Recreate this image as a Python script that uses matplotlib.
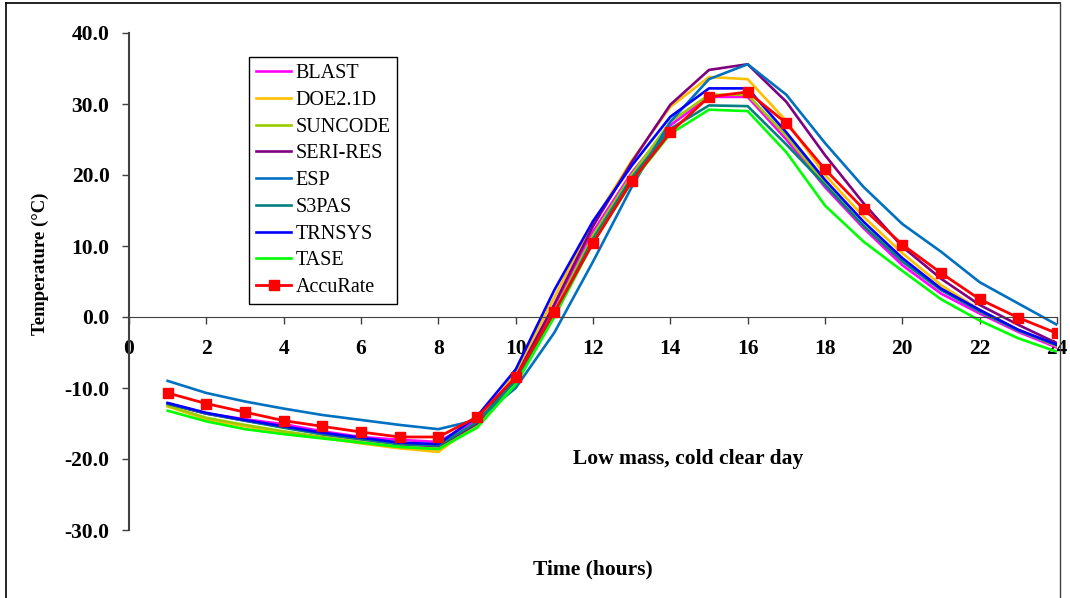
import numpy as np
import matplotlib
matplotlib.use("Agg")
import matplotlib.pyplot as plt
from matplotlib.lines import Line2D

plt.rcParams.update(
    {
        "font.family": "Liberation Serif",
        "font.size": 13,
    }
)

# hours of the day
hours = list(range(1, 25))

# simulated temperatures (degC)
blast = [-12.2, -13.6, -14.4, -15.1, -16.1, -16.9, -17.3, -17.6, -14.5, -8.3, 1.5, 12.0,
         20.3, 27.0, 31.0, 31.0, 25.0, 18.3, 12.5, 7.3, 3.3, 0.5, -2.1, -4.3]
doe21d = [-12.6, -14.4, -15.4, -16.3, -17.0, -17.8, -18.5, -19.0, -15.0, -7.9, 2.8, 13.3,
          22.0, 29.6, 33.8, 33.5, 27.6, 20.0, 14.1, 9.0, 4.5, 1.0, -1.8, -4.1]
suncode = [-12.5, -14.2, -15.2, -16.1, -16.9, -17.6, -18.3, -18.6, -15.2, -8.8, 0.8, 11.5,
           20.0, 27.5, 31.3, 31.3, 25.5, 18.8, 12.8, 8.0, 4.0, 0.8, -1.9, -4.0]
seri_res = [-12.2, -13.6, -14.6, -15.5, -16.5, -17.2, -17.9, -18.2, -15.0, -8.5, 1.8, 12.8,
            21.8, 29.9, 34.8, 35.6, 30.3, 22.8, 16.0, 9.9, 5.4, 1.7, -1.1, -3.7]
esp = [-9.0, -10.7, -11.9, -12.9, -13.8, -14.5, -15.2, -15.8, -14.5, -10.0, -2.2, 7.8,
       18.3, 27.5, 33.5, 35.6, 31.3, 24.5, 18.3, 13.1, 9.2, 4.9, 1.9, -1.1]
s3pas = [-12.2, -13.6, -14.6, -15.6, -16.5, -17.2, -17.9, -18.1, -14.8, -9.0, 0.3, 11.0,
         19.6, 26.5, 29.8, 29.7, 24.3, 18.6, 12.8, 7.8, 3.8, 0.8, -1.9, -4.0]
trnsys = [-12.1, -13.5, -14.5, -15.4, -16.3, -17.0, -17.7, -17.9, -14.0, -7.4, 3.8, 13.5,
          21.3, 28.2, 32.2, 32.2, 26.0, 19.3, 13.4, 8.3, 4.0, 1.0, -1.8, -3.9]
tase = [-13.2, -14.7, -15.8, -16.5, -17.1, -17.7, -18.3, -18.6, -15.6, -9.5, 0.0, 10.5,
        19.0, 25.8, 29.2, 29.0, 23.2, 15.7, 10.6, 6.5, 2.5, -0.5, -3.0, -4.9]
accurate = [-10.7, -12.2, -13.4, -14.6, -15.4, -16.2, -16.9, -16.9, -14.1, -8.5, 0.7, 10.4,
            19.1, 26.0, 31.0, 31.7, 27.3, 20.8, 15.2, 10.2, 6.2, 2.5, -0.1, -2.3]

series = [
    ("BLAST", blast, "#FF00FF"),
    ("DOE2.1D", doe21d, "#FFC000"),
    ("SUNCODE", suncode, "#99CC00"),
    ("SERI-RES", seri_res, "#800080"),
    ("ESP", esp, "#0070C0"),
    ("S3PAS", s3pas, "#008080"),
    ("TRNSYS", trnsys, "#0000FF"),
    ("TASE", tase, "#00FF00"),
]

W, H = 1070, 598
fig = plt.figure(figsize=(W / 100, H / 100), dpi=100)
ax = fig.add_axes([129 / W, 1 - 530 / H, (1057 - 129) / W, (530 - 33) / H])

for name, vals, col in series:
    ax.plot(hours, vals, color=col, lw=1.9, label=name)
ax.plot(hours, accurate, color="#FF0000", lw=2.0, marker="s", ms=7,
        label="AccuRate", zorder=5)

# axes
ax.set_xlim(0, 24)
ax.set_ylim(-30, 40)
ax.set_xticks(np.arange(0, 25, 2))
ax.set_yticks(np.arange(-30, 41, 10))
ax.set_yticklabels([f"{v:.1f}" for v in np.arange(-30, 41, 10)])
ax.spines["top"].set_visible(False)
ax.spines["right"].set_visible(False)
ax.spines["bottom"].set_position(("data", 0))
ax.spines["bottom"].set_color("#404040")
ax.spines["left"].set_color("#404040")
ax.spines["left"].set_linewidth(1.5)
ax.tick_params(axis="y", direction="out", length=5, width=1, pad=9, colors="#404040",
               labelcolor="black")
ax.tick_params(axis="x", direction="out", length=5, width=1, pad=11, colors="#404040",
               labelcolor="black")
for lbl in ax.get_xticklabels() + ax.get_yticklabels():
    lbl.set_fontweight("bold")
    lbl.set_fontsize(15.5)

fig.text(40 / W, 1 - 264 / H, "Temperature (\u00b0C)", rotation=90, ha="center",
         va="center", fontweight="bold", fontsize=13.5)
fig.text(593 / W, 1 - 569 / H, "Time (hours)", ha="center", va="center",
         fontweight="bold", fontsize=15.5)
fig.text(688 / W, 1 - 459 / H, "Low mass, cold clear day", ha="center", va="center",
         fontweight="bold", fontsize=15.5)

leg = ax.legend(loc="upper left", bbox_to_anchor=(249 / W, 1 - 57 / H),
                bbox_transform=fig.transFigure, borderaxespad=0, frameon=True,
                fancybox=False, edgecolor="black", framealpha=1, fontsize=14.5,
                handlelength=1.75, handletextpad=0.2, labelspacing=0.38,
                borderpad=0.35)
leg.get_frame().set_linewidth(1.0)

# chart border
fig.add_artist(Line2D([6 / W, 6 / W], [0, 1 - 3 / H], transform=fig.transFigure,
                      color="black", lw=1.2))
fig.add_artist(Line2D([6 / W, 1060 / W], [1 - 3 / H, 1 - 3 / H],
                      transform=fig.transFigure, color="black", lw=1.2))
fig.add_artist(Line2D([1060 / W, 1060 / W], [0, 1 - 3 / H], transform=fig.transFigure,
                      color="#404040", lw=1.0))

fig.savefig("out.png", dpi=100)
